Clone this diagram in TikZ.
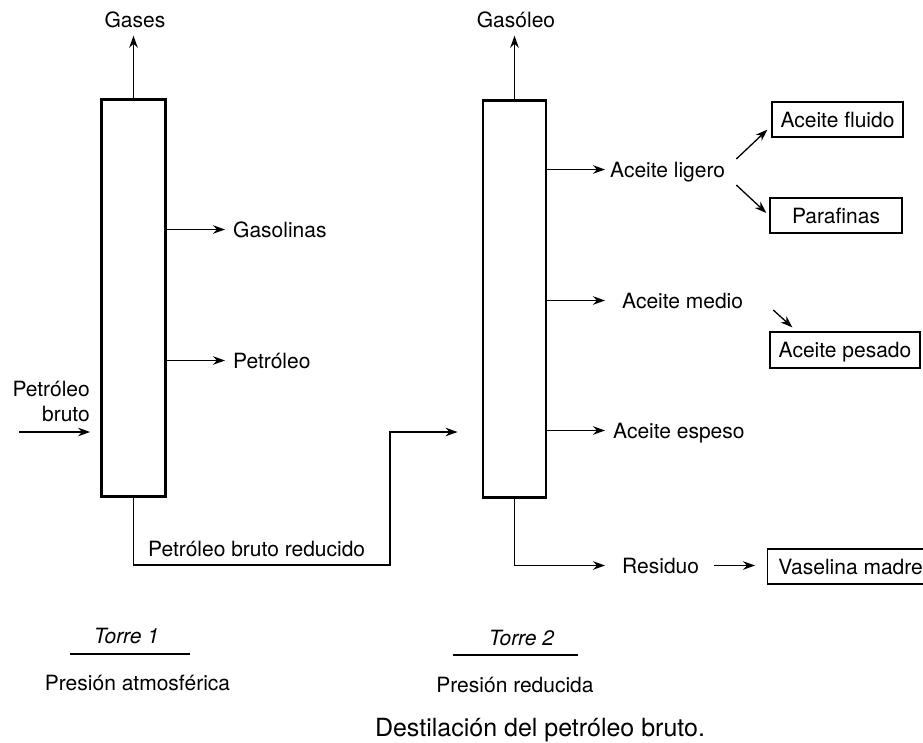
\documentclass[tikz,border=0pt]{standalone}
\usepackage{fontspec}
\setmainfont{TeX Gyre Heros}
\usetikzlibrary{arrows.meta,positioning}
\newcommand{\lblfont}{\fontsize{21}{25}\selectfont}
\newcommand{\capfont}{\fontsize{25}{30}\selectfont}
\tikzset{
 tower/.style={draw,line width=2.8pt,inner sep=0pt,minimum width=64pt,minimum height=397pt},
 flow/.style={-{Stealth[length=12pt,width=8.5pt]},line width=1.3pt,shorten >=4pt},
 pipe/.style={line width=1.3pt},
 lbl/.style={font=\lblfont,inner sep=4pt,text height=15pt,text depth=0pt},
 prod/.style={lbl,draw,line width=1.3pt,minimum height=35pt},
}
\begin{document}
\begin{tikzpicture}[x=1pt,y=-1pt,line cap=butt]
\useasboundingbox (0,0) rectangle (923,742);
\node[tower] (t1) at (133.5,298) {};
\node[tower,minimum width=63pt] (t2) at (514.5,299) {};
\node[lbl] (gases) at (135,20) {Gases};
\node[lbl] (gasoleo) at (516,20) {Gasóleo};
\draw[flow] (t1.north) -- (t1.north |- gases.south);
\draw[flow] (t2.north) -- (t2.north |- gasoleo.south);
\node[lbl,anchor=west] (gasol) at (229,229.5) {Gasolinas};
\node[lbl,anchor=west] (petr) at (229,360.5) {Petróleo};
\draw[flow] (t1.east |- gasol.west) -- (gasol.west);
\draw[flow] (t1.east |- petr.west) -- (petr.west);
\node[font=\lblfont,align=right,inner sep=4pt,text depth=0pt,anchor=south east] (bruto) at (94,426) {Petróleo\\bruto};
\coordinate (feed) at (19,432);
\draw[flow,shorten >=10pt] (feed) -- (feed -| t1.west);
\coordinate (rbend) at (390,565);
\draw[flow,shorten >=24pt] (t1.south) |- (rbend) |- (t2.west |- feed);
\node[lbl,anchor=west] (reduc) at (144,548.5) {Petróleo bruto reducido};
\node[lbl,anchor=west] (ligero) at (606,169.5) {Aceite ligero};
\node[lbl,anchor=west] (medio) at (618,300.5) {Aceite medio};
\node[lbl,anchor=west] (espeso) at (609,430.5) {Aceite espeso};
\node[lbl,anchor=west] (residuo) at (618,565.5) {Residuo};
\draw[flow,shorten >=1pt] (t2.east |- ligero.west) -- (ligero.west);
\draw[flow,shorten >=13pt] (t2.east |- medio.west) -- (medio.west);
\draw[flow] (t2.east |- espeso.west) -- (espeso.west);
\draw[flow,shorten >=13pt] (t2.south) |- (residuo.west);
\node[prod,minimum width=131pt] (fluido) at (837.5,119.5) {Aceite fluido};
\node[prod,minimum width=132pt] (paraf) at (836,215.5) {Parafinas};
\node[prod,minimum width=150pt,minimum height=36pt] (pesado) at (845,350) {Aceite pesado};
\node[prod,minimum width=166pt,anchor=west] (vaselina) at (767,566.5) {Vaselina madre};
\draw[flow,shorten >=0pt] ([shift={(7,-10.5)}]ligero.east) -- ([shift={(-4,-8)}]fluido.south west);
\draw[flow,shorten >=0pt] ([shift={(7,15.5)}]ligero.east) -- ([shift={(-3,-2.5)}]paraf.west);
\draw[flow,shorten >=0pt] ([shift={(26,9.5)}]medio.east) -- ([shift={(23,-4)}]pesado.north west);
\draw[flow,shorten <=11pt,shorten >=12pt] (residuo.east) -- (residuo.east -| vaselina.west);
\node[lbl,font=\lblfont\itshape] (torre1) at (126.5,636) {Torre 1};
\node[lbl,font=\lblfont\itshape] (torre2) at (521.5,638) {Torre 2};
\draw[pipe] (70,654) -- (190,654);
\draw[pipe] (453,655) -- (578,655);
\node[lbl] (atm) at (137.5,682.5) {Presión atmosférica};
\node[lbl] (red) at (515,685) {Presión reducida};
\node[font=\capfont,inner sep=2pt,text height=18pt,text depth=0pt] (caption) at (540,727.5) {Destilación del petróleo bruto.};
\end{tikzpicture}
\end{document}
